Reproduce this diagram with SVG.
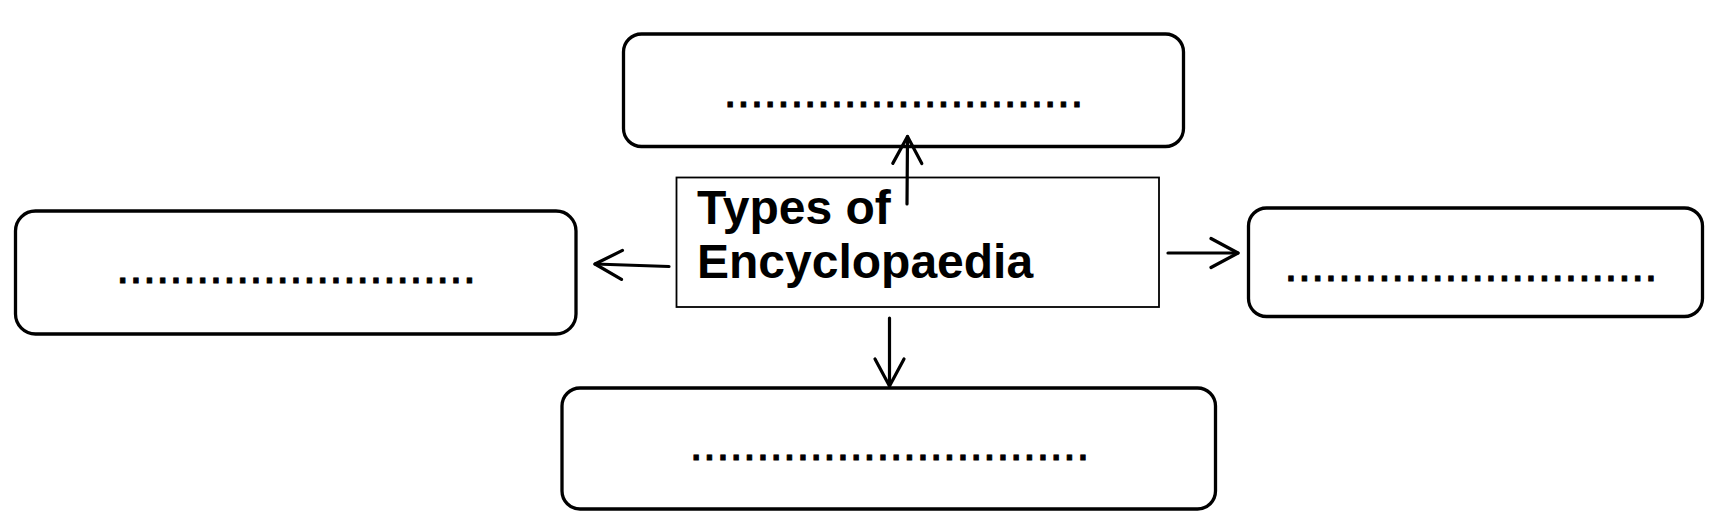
<svg xmlns="http://www.w3.org/2000/svg" width="1719" height="529" viewBox="0 0 1719 529">
<style>
.box{fill:#fff;stroke:#000;stroke-width:3.3}
.center{fill:#fff;stroke:#000;stroke-width:1.8}
.dots{font-family:"Liberation Sans",Arial,sans-serif;font-size:48px;fill:#000;stroke:#000;stroke-width:0.9;text-anchor:middle}
.title{font-family:"Liberation Sans",Arial,sans-serif;font-size:48px;font-weight:bold;fill:#000}
.conn{fill:none;stroke:#000;stroke-width:3.2;stroke-linecap:round}
</style>
<defs>
<marker id="arrow" markerUnits="userSpaceOnUse" markerWidth="40" markerHeight="40" refX="30" refY="20" orient="auto" overflow="visible">
<path d="M3,5.5 L30,20 L3,34.5" fill="none" stroke="#000" stroke-width="3.2" stroke-linecap="round" stroke-linejoin="round"/>
</marker>
</defs>
<rect width="1719" height="529" fill="#fff"/>
<g id="node-top">
<rect class="box" x="623.5" y="34" width="560" height="112.5" rx="18"/>
<text class="dots" x="903.5" y="107">...........................</text>
</g>
<g id="node-left">
<rect class="box" x="15.5" y="211" width="560.5" height="123" rx="20"/>
<text class="dots" x="296" y="283">...........................</text>
</g>
<g id="node-right">
<rect class="box" x="1248.5" y="208" width="454" height="108.5" rx="18"/>
<text class="dots" x="1471" y="281">............................</text>
</g>
<g id="node-bottom">
<rect class="box" x="562" y="388" width="653.5" height="121" rx="18"/>
<text class="dots" x="889.5" y="460">..............................</text>
</g>
<g id="node-center">
<rect class="center" x="676.5" y="177.5" width="482.5" height="129.5"/>
<text class="title" x="697" y="224">Types of</text>
<text class="title" x="697" y="278">Encyclopaedia</text>
</g>
<g id="connectors">
<path class="conn" d="M907,204 L907.5,136.5" marker-end="url(#arrow)"/>
<path class="conn" d="M669,266.5 L595,264" marker-end="url(#arrow)"/>
<path class="conn" d="M1168,253 L1238,253" marker-end="url(#arrow)"/>
<path class="conn" d="M889.5,318 L889.5,386" marker-end="url(#arrow)"/>
</g>
</svg>
